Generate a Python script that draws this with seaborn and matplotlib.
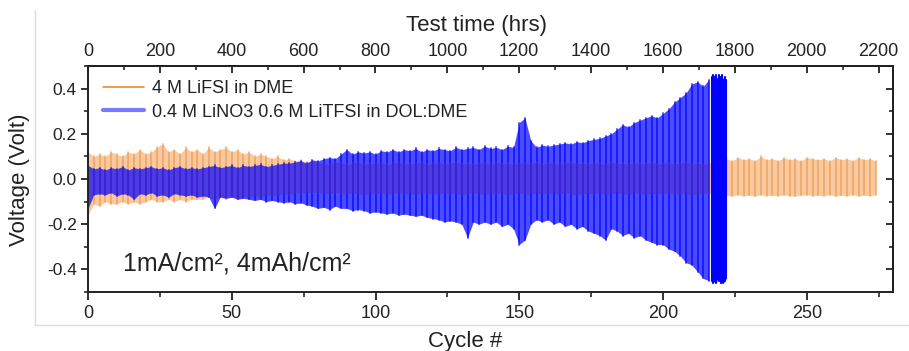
import numpy as np
import pandas as pd
import matplotlib
matplotlib.use("Agg")
import matplotlib.pyplot as plt
import seaborn as sns
from matplotlib.lines import Line2D
from matplotlib.ticker import MultipleLocator

# ---------------- data ----------------
# Orange: 4 M LiFSI in DME -- voltage envelope per 2 cycles (cycle 0, 2, ..., 274)
orange_start, orange_step = 0, 2
orange_hi = [
    0.12, 0.10, 0.11, 0.10, 0.12, 0.11, 0.10, 0.12, 0.11, 0.13,
    0.11, 0.12, 0.14, 0.155, 0.12, 0.13, 0.11, 0.14, 0.12, 0.13,
    0.11, 0.14, 0.12, 0.13, 0.14, 0.12, 0.13, 0.11, 0.12, 0.10,
    0.11, 0.10, 0.09, 0.10, 0.085, 0.09, 0.08, 0.085, 0.075, 0.08,
    0.07,
    0.07, 0.065, 0.075, 0.07, 0.065, 0.07, 0.075, 0.065, 0.07, 0.068,
    0.072, 0.065, 0.07, 0.075, 0.066, 0.07, 0.068, 0.074, 0.065, 0.07,
    0.072, 0.066, 0.07, 0.075, 0.068, 0.07, 0.065, 0.072, 0.07, 0.066,
    0.074, 0.068, 0.07, 0.065, 0.072, 0.07, 0.068, 0.075, 0.066, 0.07,
    0.072, 0.065, 0.07, 0.074, 0.068, 0.07, 0.066, 0.072, 0.07, 0.065,
    0.075, 0.068, 0.07, 0.066, 0.072, 0.07, 0.068, 0.074, 0.065, 0.07,
    0.072, 0.066, 0.07, 0.075, 0.068, 0.07, 0.065, 0.072, 0.07, 0.068,
    0.09, 0.08, 0.095, 0.085, 0.09, 0.08, 0.10, 0.085, 0.09, 0.08,
    0.095, 0.085, 0.09, 0.08, 0.095, 0.09, 0.085, 0.09, 0.08, 0.095,
    0.085, 0.09, 0.08, 0.095, 0.085, 0.09, 0.08,
]
orange_lo = [
    -0.16, -0.11, -0.12, -0.10, -0.11, -0.11, -0.10, -0.11, -0.10, -0.11,
    -0.10, -0.09, -0.10, -0.10, -0.09, -0.10, -0.09, -0.10, -0.09, -0.09,
    -0.09, -0.08, -0.09, -0.08, -0.09, -0.08, -0.085, -0.08, -0.08, -0.075,
    -0.08, -0.07, -0.075, -0.07, -0.065, -0.07, -0.06, -0.065, -0.06, -0.06,
    -0.06,
    -0.062, -0.066, -0.06, -0.065, -0.068, -0.062, -0.066, -0.07, -0.064, -0.066,
    -0.062, -0.068, -0.065, -0.06, -0.066, -0.064, -0.07, -0.062, -0.066, -0.065,
    -0.068, -0.062, -0.066, -0.064, -0.07, -0.065, -0.062, -0.066, -0.068, -0.064,
    -0.066, -0.062, -0.07, -0.065, -0.064, -0.066, -0.068, -0.062, -0.066, -0.065,
    -0.064, -0.068, -0.062, -0.066, -0.07, -0.065, -0.064, -0.066, -0.062, -0.068,
    -0.066, -0.064, -0.065, -0.07, -0.062, -0.066, -0.068, -0.064, -0.066, -0.065,
    -0.062, -0.068, -0.066, -0.064, -0.07, -0.065, -0.066, -0.062, -0.068, -0.066,
    -0.072, -0.075, -0.07, -0.074, -0.072, -0.076, -0.07, -0.074, -0.072, -0.075,
    -0.07, -0.074, -0.076, -0.072, -0.07, -0.075, -0.072, -0.074, -0.07, -0.076,
    -0.072, -0.074, -0.07, -0.075, -0.072, -0.074, -0.07,
]

# Blue: 0.4 M LiNO3 0.6 M LiTFSI in DOL:DME -- envelope per 2 cycles (0..216)
blue_start, blue_step = 0, 2
blue_hi = [
    0.06, 0.045, 0.05, 0.04, 0.05, 0.045, 0.055, 0.04, 0.05, 0.045,
    0.05, 0.055, 0.045, 0.05, 0.04, 0.05, 0.055, 0.045, 0.05, 0.045,
    0.05, 0.055, 0.06, 0.05, 0.055, 0.06, 0.05, 0.06, 0.055, 0.06,
    0.065, 0.055, 0.06, 0.065, 0.07,
    0.07, 0.075, 0.08, 0.07, 0.085, 0.08, 0.09, 0.095, 0.09, 0.11,
    0.13, 0.11, 0.12, 0.115, 0.12, 0.11, 0.125, 0.12, 0.13, 0.12,
    0.13, 0.125, 0.135, 0.12, 0.13, 0.125, 0.135, 0.13, 0.125, 0.14,
    0.13, 0.135, 0.14, 0.13, 0.145,
    0.135, 0.14, 0.13, 0.145, 0.14,
    0.25, 0.27, 0.17,
    0.14, 0.15, 0.145, 0.15, 0.155, 0.16, 0.155, 0.165, 0.16, 0.17,
    0.175, 0.18,
    0.19, 0.20, 0.22, 0.24, 0.23, 0.25, 0.26, 0.27, 0.28, 0.27,
    0.29, 0.31, 0.34, 0.36, 0.38, 0.42, 0.43, 0.41, 0.44,
]
blue_lo = [
    -0.13, -0.07, -0.065, -0.07, -0.06, -0.075, -0.065, -0.07, -0.09, -0.065,
    -0.07, -0.06, -0.075, -0.07, -0.08, -0.065, -0.07, -0.075, -0.07, -0.08,
    -0.075, -0.08, -0.13, -0.08, -0.085, -0.08, -0.09, -0.085, -0.09, -0.095,
    -0.09, -0.10, -0.095, -0.10, -0.105,
    -0.10, -0.11, -0.105, -0.115, -0.12, -0.13, -0.125, -0.135, -0.12, -0.13,
    -0.13, -0.14, -0.135, -0.14, -0.15, -0.145, -0.15, -0.155, -0.15, -0.16,
    -0.155, -0.16, -0.165, -0.16, -0.17, -0.175, -0.18, -0.19, -0.185, -0.19,
    -0.20, -0.26, -0.19, -0.20, -0.19,
    -0.20, -0.19, -0.21, -0.20, -0.22,
    -0.29, -0.27, -0.20,
    -0.18, -0.19, -0.18, -0.20, -0.19, -0.21, -0.20, -0.22, -0.21, -0.23,
    -0.24, -0.25,
    -0.27, -0.22, -0.23, -0.25, -0.24, -0.26, -0.25, -0.27, -0.28, -0.29,
    -0.29, -0.31, -0.32, -0.34, -0.37, -0.38, -0.41, -0.44, -0.45,
]
# Blue: final short-circuit region, envelope per half cycle (217..222)
blue_end_start, blue_end_step = 217, 0.5
blue_end_hi = [0.45, 0.46, 0.45, 0.46, 0.44, 0.46, 0.45, 0.46, 0.44, 0.45, 0.44]
blue_end_lo = [-0.45, -0.46, -0.45, -0.46, -0.44, -0.45, -0.46, -0.45, -0.46,
               -0.45, -0.44]

label_orange = "4 M LiFSI in DME"
label_blue = "0.4 M LiNO3 0.6 M LiTFSI in DOL:DME"
hours_per_cycle = 8
bottom_ticks = [0, 50, 100, 150, 200, 250]
top_ticks = [0, 200, 400, 600, 800, 1000, 1200, 1400, 1600, 1800, 2000, 2200]
y_ticks = [-0.4, -0.2, 0.0, 0.2, 0.4]


def cycles_of(start, step, values):
    return [start + i * step for i in range(len(values))]


def vertical_segments(start, step, hi, lo, name):
    rows = []
    for i, (h, l) in enumerate(zip(hi, lo)):
        c = start + i * step
        rows.append((c, l, i, name))
        rows.append((c, h, i, name))
    return pd.DataFrame(rows, columns=["cycle", "voltage", "unit", "series"])


# ---------------- figure ----------------
sns.set_theme(style="ticks")
plt.rcParams["font.family"] = ["Liberation Sans", "DejaVu Sans"]
plt.rcParams["axes.linewidth"] = 1.4

fig = plt.figure(figsize=(9.09, 3.51), dpi=100)
W, H = 909, 351
ax = fig.add_axes([88 / W, 59 / H, 805 / W, 226 / H])

ORANGE = "#f08a30"
BLUE = "#0000ff"

# orange series: band + per-cycle strokes
oc = cycles_of(orange_start, orange_step, orange_hi)
ax.fill_between(oc, orange_lo, orange_hi, color=ORANGE, alpha=0.45, lw=0)
sns.lineplot(data=vertical_segments(orange_start, orange_step, orange_hi, orange_lo, label_orange),
             x="cycle", y="voltage", units="unit", estimator=None, sort=False,
             color=ORANGE, lw=1.3, alpha=0.55, ax=ax, legend=False)

# blue series: band + per-cycle strokes
bc = cycles_of(blue_start, blue_step, blue_hi)
ax.fill_between(bc, blue_lo, blue_hi, color=BLUE, alpha=0.7, lw=0)
sns.lineplot(data=vertical_segments(blue_start, blue_step, blue_hi, blue_lo, label_blue),
             x="cycle", y="voltage", units="unit", estimator=None, sort=False,
             color=BLUE, lw=1.4, alpha=0.65, ax=ax, legend=False)
be = cycles_of(blue_end_start, blue_end_step, blue_end_hi)
ax.fill_between(be, blue_end_lo, blue_end_hi, color=BLUE, alpha=1.0, lw=0)
sns.lineplot(data=vertical_segments(blue_end_start, blue_end_step, blue_end_hi, blue_end_lo, label_blue),
             x="cycle", y="voltage", units="unit", estimator=None, sort=False,
             color=BLUE, lw=1.5, alpha=1.0, ax=ax, legend=False)

ax.set_xlim(0, 280)
ax.set_ylim(-0.5, 0.5)
ax.set_xticks(bottom_ticks)
ax.xaxis.set_minor_locator(MultipleLocator(25))
ax.set_yticks(y_ticks)
ax.set_yticklabels([f"{v:.1f}" for v in y_ticks])
ax.yaxis.set_minor_locator(MultipleLocator(0.1))

tick_col = "#222222"
for s in ax.spines.values():
    s.set_visible(True)
    s.set_color(tick_col)
    s.set_linewidth(1.4)

ax.tick_params(axis="x", which="major", direction="out", length=6, width=1.3,
               labelsize=13, colors=tick_col, top=False, pad=3)
ax.tick_params(axis="x", which="minor", direction="out", length=3.5, width=1.2,
               top=False)
ax.tick_params(axis="y", which="major", direction="out", length=5, width=1.3,
               labelsize=12.5, colors=tick_col, right=False, pad=3)
ax.tick_params(axis="y", which="minor", direction="out", length=3, width=1.2,
               right=False)

# right axis: inward ticks, no labels
secy = ax.secondary_yaxis("right")
secy.set_yticks(y_ticks)
secy.yaxis.set_minor_locator(MultipleLocator(0.1))
secy.tick_params(axis="y", which="major", direction="in", length=5, width=1.3,
                 labelright=False, colors=tick_col)
secy.tick_params(axis="y", which="minor", direction="in", length=3, width=1.2)
secy.spines["right"].set_color(tick_col)
secy.spines["right"].set_linewidth(1.4)

# top axis: test time in hours
secx = ax.secondary_xaxis("top", functions=(lambda c: c * hours_per_cycle,
                                            lambda h: h / hours_per_cycle))
secx.set_xticks(top_ticks)
secx.xaxis.set_minor_locator(MultipleLocator(100))
secx.tick_params(axis="x", which="major", direction="in", length=5, width=1.3,
                 labelsize=13, colors=tick_col, pad=4)
secx.tick_params(axis="x", which="minor", direction="in", length=3, width=1.2)
secx.spines["top"].set_color(tick_col)
secx.spines["top"].set_linewidth(1.4)
secx.set_xlabel("Test time (hrs)", fontsize=16, color=tick_col)
secx.xaxis.set_label_coords(0.483, 1.155, transform=ax.transAxes)

ax.set_xlabel("Cycle #", fontsize=16, color=tick_col)
ax.xaxis.set_label_coords(0.468, -0.172)
ax.set_ylabel("Voltage (Volt)", fontsize=16, color=tick_col)
ax.yaxis.label.set_va("center")
ax.yaxis.set_label_coords(-0.0845, 0.496)

ax.text(0.0435, 0.128, "1mA/cm\u00b2, 4mAh/cm\u00b2", transform=ax.transAxes,
        fontsize=18, color=tick_col, va="center", ha="left")

handles = [Line2D([], [], color=ORANGE, lw=1.2),
           Line2D([], [], color="#7a7aff", lw=3)]
ax.legend(handles, [label_orange, label_blue], loc="upper left",
          bbox_to_anchor=(0.005, 0.985), frameon=False, fontsize=13,
          handlelength=2.3, handletextpad=0.4, labelspacing=0.35,
          borderaxespad=0.2, labelcolor=tick_col)

# light grey frame of the original image
fig.add_artist(Line2D([35 / W, 35 / W], [1 - 10 / H, 1 - 325 / H],
                      transform=fig.transFigure, color="#dcdcdc", lw=1))
fig.add_artist(Line2D([35 / W, 1.0], [1 - 325 / H, 1 - 325 / H],
                      transform=fig.transFigure, color="#dcdcdc", lw=1))

fig.savefig("out.png", dpi=100)
